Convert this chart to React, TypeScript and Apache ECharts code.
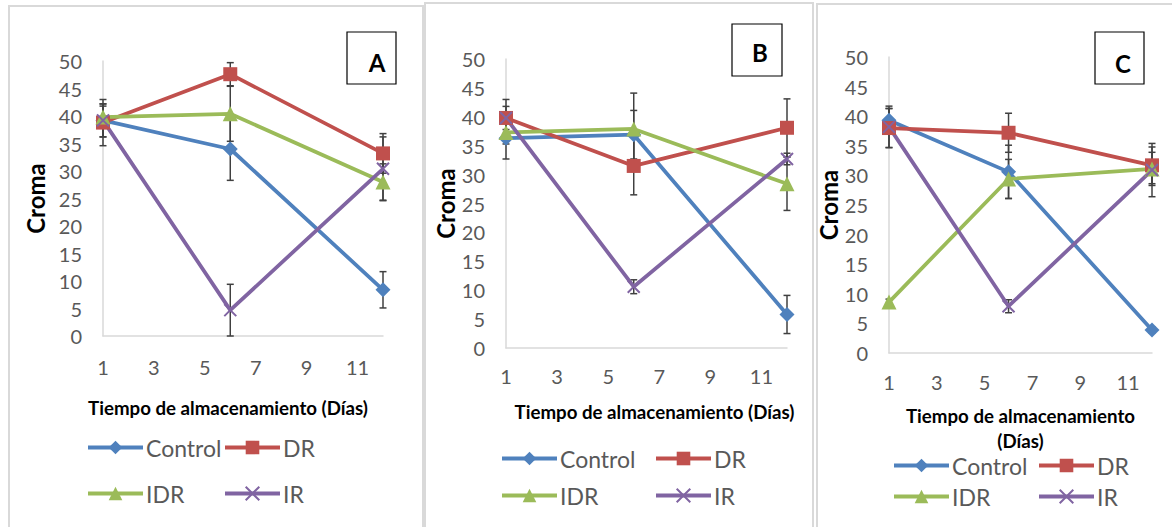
import React, { useEffect, useRef } from "react";
import * as echarts from "echarts";

// ---------- data ----------
const DAYS = [1, 6, 12];
const SERIES_NAMES = ["Control", "DR", "IDR", "IR"];
const X_TICKS = [1, 3, 5, 7, 9, 11];
const PANEL_LABELS = ["A", "B", "C"];

// Panel A
const A_CONTROL = [39.2, 34.0, 8.4];
const A_DR = [38.8, 47.6, 33.2];
const A_IDR = [39.8, 40.4, 28.0];
const A_IR = [39.2, 4.7, 30.4];
const A_CONTROL_ERR = [3.0, 5.7, 3.3];
const A_DR_ERR = [4.2, 2.1, 3.6];
const A_IDR_ERR = [2.0, 5.0, 3.3];
const A_IR_ERR = [3.0, 4.7, 5.8];

// Panel B
const B_CONTROL = [36.3, 36.9, 5.8];
const B_DR = [39.8, 31.5, 38.1];
const B_IDR = [37.3, 37.9, 28.4];
const B_IR = [39.8, 10.6, 32.7];
const B_CONTROL_ERR = [3.6, 4.2, 3.3];
const B_DR_ERR = [3.2, 5.0, 5.0];
const B_IDR_ERR = [2.0, 6.2, 4.6];
const B_IR_ERR = [2.0, 1.2, 1.0];

// Panel C
const C_CONTROL = [39.3, 30.6, 3.9];
const C_DR = [38.0, 37.2, 31.7];
const C_IDR = [8.6, 29.4, 31.1];
const C_IR = [38.2, 7.9, 30.9];
const C_CONTROL_ERR = [2.0, 4.5, 0.5];
const C_DR_ERR = [3.3, 3.3, 3.1];
const C_IDR_ERR = [0.5, 3.3, 2.8];
const C_IR_ERR = [3.5, 1.1, 4.5];

const PANEL_VALUES = [
  [A_CONTROL, A_DR, A_IDR, A_IR],
  [B_CONTROL, B_DR, B_IDR, B_IR],
  [C_CONTROL, C_DR, C_IDR, C_IR],
];
const PANEL_ERRORS = [
  [A_CONTROL_ERR, A_DR_ERR, A_IDR_ERR, A_IR_ERR],
  [B_CONTROL_ERR, B_DR_ERR, B_IDR_ERR, B_IR_ERR],
  [C_CONTROL_ERR, C_DR_ERR, C_IDR_ERR, C_IR_ERR],
];

// ---------- styles ----------
const COLORS = ["#4F81BD", "#C0504D", "#9BBB59", "#8064A2"];
const SYMBOLS = ["diamond", "rect", "triangle", "path://M0,0L10,10M10,0L0,10"];
const SYMBOL_SIZES = [15, 14, 15, 12];
const FONT = "Lato, 'Open Sans', sans-serif";
const GRAY = "#595959";

const LAYOUT = [
  {
    grid: { left: 103, top: 61, width: 280, height: 275 },
    yNameGap: 56,
    xNameGap: 59,
    xNamePad: [0, 30, 0, 0],
    xLabelMargin: 21,
    xName: "Tiempo de almacenamiento (Días)",
    legendX: [86, 223],
    legendY: [449, 495],
    frame: { x: 9, y: 6, w: 414, h: 560 },
    box: { x: 347, y: 32, w: 49, h: 52, cx: 377, cy: 62 },
  },
  {
    grid: { left: 506, top: 59, width: 281, height: 289 },
    yNameGap: 47,
    xNameGap: 51,
    xNamePad: [0, 0, 0, 16],
    xLabelMargin: 18,
    xName: "Tiempo de almacenamiento (Días)",
    legendX: [500, 654],
    legendY: [460, 497],
    frame: { x: 425, y: 3, w: 388, h: 560 },
    box: { x: 732, y: 24, w: 50, h: 52, cx: 760, cy: 52 },
  },
  {
    grid: { left: 889, top: 57, width: 263, height: 296 },
    yNameGap: 37,
    xNameGap: 50,
    xNamePad: [0, 0, 0, 0],
    xLabelMargin: 19,
    xName: "Tiempo de almacenamiento\n(Días)",
    legendX: [892, 1037],
    legendY: [467, 498],
    frame: { x: 817, y: 4, w: 400, h: 560 },
    box: { x: 1095, y: 32, w: 49, h: 52, cx: 1123, cy: 63 },
  },
];

function buildOption() {
  const grid: any[] = [];
  const xAxis: any[] = [];
  const yAxis: any[] = [];
  const series: any[] = [];
  const legend: any[] = [];
  const graphic: any[] = [];

  LAYOUT.forEach((L, p) => {
    grid.push({ ...L.grid, containLabel: false });
    xAxis.push({
      type: "value",
      gridIndex: p,
      min: 1,
      max: 12,
      interval: 2,
      name: L.xName,
      nameLocation: "middle",
      nameGap: L.xNameGap,
      nameTextStyle: {
        fontFamily: FONT,
        fontWeight: "bold",
        fontSize: 18.7,
        color: "#000",
        lineHeight: 25,
        padding: L.xNamePad,
      },
      axisLine: { show: true, lineStyle: { color: "#D9D9D9", width: 1.5 } },
      axisTick: { show: false },
      splitLine: { show: false },
      axisLabel: {
        margin: L.xLabelMargin,
        fontFamily: FONT,
        fontSize: 20,
        color: GRAY,
        formatter: (v: number) => (X_TICKS.includes(v) ? String(v) : ""),
      },
    });
    yAxis.push({
      type: "value",
      gridIndex: p,
      min: 0,
      max: 50,
      interval: 5,
      name: "Croma",
      nameLocation: "middle",
      nameGap: L.yNameGap,
      nameTextStyle: { fontFamily: FONT, fontWeight: "bold", fontSize: 24, color: "#000" },
      axisLine: { show: true, lineStyle: { color: "#D9D9D9", width: 1.5 } },
      axisTick: { show: false },
      splitLine: { show: false },
      axisLabel: { margin: 21, fontFamily: FONT, fontSize: 20, color: GRAY },
    });

    SERIES_NAMES.forEach((name, s) => {
      const vals = PANEL_VALUES[p][s];
      const errs = PANEL_ERRORS[p][s];
      series.push({
        type: "custom",
        name: name + " error",
        xAxisIndex: p,
        yAxisIndex: p,
        z: 1,
        silent: true,
        encode: { x: 0, y: 1 },
        data: DAYS.map((d, i) => [d, vals[i], errs[i]]),
        renderItem: (params: any, api: any) => {
          const x = api.value(0);
          const y = api.value(1);
          const e = api.value(2);
          const top = api.coord([x, y + e]);
          const bot = api.coord([x, Math.max(0, y - e)]);
          const hw = 3.5;
          const st = { stroke: "#404040", lineWidth: 1.5 };
          return {
            type: "group",
            children: [
              { type: "line", shape: { x1: top[0], y1: top[1], x2: bot[0], y2: bot[1] }, style: st },
              { type: "line", shape: { x1: top[0] - hw, y1: top[1], x2: top[0] + hw, y2: top[1] }, style: st },
              { type: "line", shape: { x1: bot[0] - hw, y1: bot[1], x2: bot[0] + hw, y2: bot[1] }, style: st },
            ],
          };
        },
      });
    });

    SERIES_NAMES.forEach((name, s) => {
      const vals = PANEL_VALUES[p][s];
      const isX = s === 3;
      series.push({
        type: "line",
        name,
        xAxisIndex: p,
        yAxisIndex: p,
        z: 3,
        data: DAYS.map((d, i) => [d, vals[i]]),
        symbol: SYMBOLS[s],
        symbolSize: SYMBOL_SIZES[s],
        showAllSymbol: true,
        lineStyle: { color: COLORS[s], width: 3.75 },
        itemStyle: isX
          ? { color: COLORS[s], borderColor: COLORS[s], borderWidth: 2 }
          : { color: COLORS[s], borderWidth: 0 },
        emphasis: { disabled: true },
      });
    });

    SERIES_NAMES.forEach((name, s) => {
      const col = s % 2;
      const row = Math.floor(s / 2);
      legend.push({
        data: [name],
        left: L.legendX[col],
        top: L.legendY[row] - 13,
        itemWidth: 55,
        itemHeight: 17,
        selectedMode: false,
        padding: 0,
        itemGap: 0,
        lineStyle: { width: 4 },
        textStyle: { fontFamily: FONT, fontSize: 23, color: GRAY, padding: [0, 0, 0, -2] },
      });
    });

    graphic.push({
      type: "rect",
      shape: { x: L.frame.x, y: L.frame.y, width: L.frame.w, height: L.frame.h },
      style: { fill: "none", stroke: "#D9D9D9", lineWidth: 2 },
      z: 0,
    });
    graphic.push({
      type: "rect",
      shape: { x: L.box.x, y: L.box.y, width: L.box.w, height: L.box.h },
      style: { fill: "#fff", stroke: "#000", lineWidth: 1.2 },
      z: 10,
    });
    graphic.push({
      type: "text",
      x: L.box.cx,
      y: L.box.cy,
      style: {
        text: PANEL_LABELS[p],
        fontFamily: FONT,
        fontWeight: "bold",
        fontSize: 24,
        fill: "#000",
        align: "center",
        verticalAlign: "middle",
      },
      z: 11,
    });
  });

  return {
    animation: false,
    backgroundColor: "#fff",
    grid,
    xAxis,
    yAxis,
    series,
    legend,
    graphic,
  };
}

export default function App() {
  const ref = useRef<HTMLDivElement>(null);
  useEffect(() => {
    if (!ref.current) return;
    const chart = echarts.init(ref.current, null, { renderer: "svg" });
    chart.setOption(buildOption() as any);
    return () => chart.dispose();
  }, []);
  return (
    <div
      ref={ref}
      style={{ position: "absolute", left: 0, top: 0, width: 1172, height: 527 }}
    />
  );
}
